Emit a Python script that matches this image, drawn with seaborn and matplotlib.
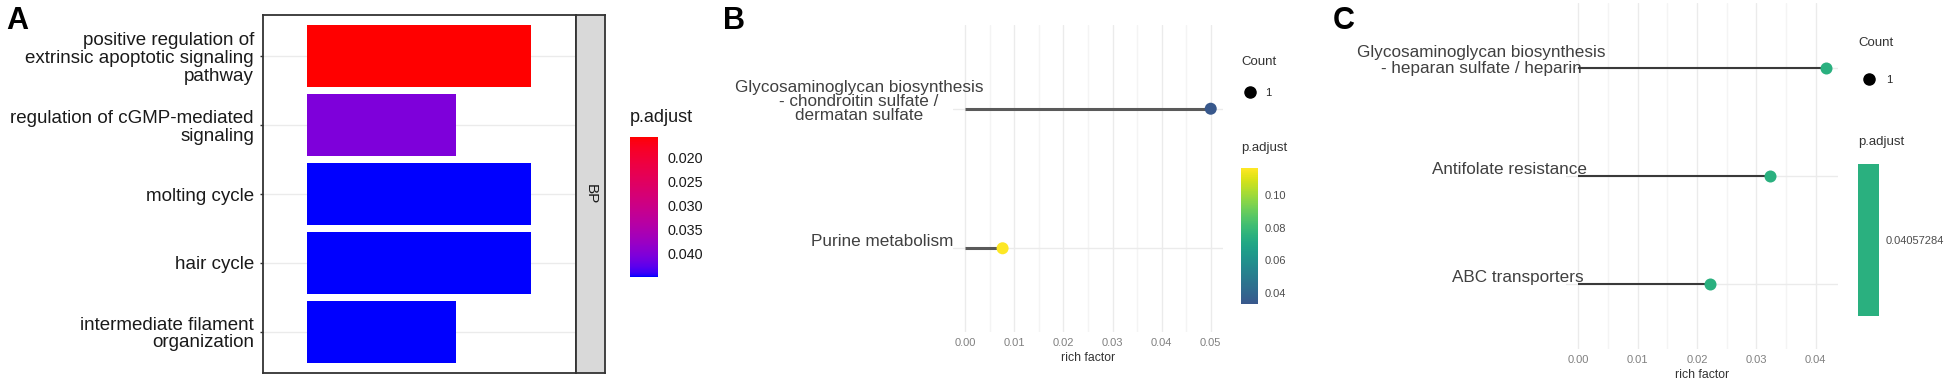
import numpy as np
import pandas as pd
import matplotlib
matplotlib.use("Agg")
import matplotlib.pyplot as plt
import seaborn as sns
from matplotlib.colors import ListedColormap, Normalize
from matplotlib.cm import ScalarMappable
from matplotlib.lines import Line2D
from matplotlib.ticker import FormatStrFormatter, MultipleLocator

# ---------------- data ----------------
a_terms = ["positive regulation of\nextrinsic apoptotic signaling\npathway",
           "regulation of cGMP-mediated\nsignaling",
           "molting cycle",
           "hair cycle",
           "intermediate filament\norganization"]
a_count = [3, 2, 3, 3, 2]
a_padj = [0.01558, 0.0405, 0.04505, 0.04505, 0.04505]
a_cbar_ticks = [0.020, 0.025, 0.030, 0.035, 0.040]
a_facet = "BP"

b_terms = ["Glycosaminoglycan biosynthesis\n- chondroitin sulfate /\ndermatan sulfate",
           "Purine metabolism"]
b_rich = [0.05, 0.0076]
b_padj = [0.0333, 0.1164]
b_count = [1, 1]
b_xticks = [0.00, 0.01, 0.02, 0.03, 0.04, 0.05]
b_cbar_ticks = [0.04, 0.06, 0.08, 0.10]

c_terms = ["Glycosaminoglycan biosynthesis\n- heparan sulfate / heparin",
           "Antifolate resistance",
           "ABC transporters"]
c_rich = [0.0417, 0.0323, 0.0222]
c_padj = [0.04057284, 0.04057284, 0.04057284]
c_count = [1, 1, 1]
c_xticks = [0.00, 0.01, 0.02, 0.03, 0.04]

# ---------------- style ----------------
sns.set_theme(style="white")
plt.rcParams["font.family"] = ["Liberation Sans", "DejaVu Sans"]

W, H = 1950, 390
fig = plt.figure(figsize=(W / 100, H / 100), dpi=100)


def rect(x0, y0, x1, y1):
    return [x0 / W, 1 - y1 / H, (x1 - x0) / W, (y1 - y0) / H]


# CIELAB gradient red -> blue (like ggplot's continuous scale)
def _to_lab(rgb):
    c = np.asarray(rgb, float)
    lin = np.where(c <= 0.04045, c / 12.92, ((c + 0.055) / 1.055) ** 2.4)
    M = np.array([[0.4124, 0.3576, 0.1805], [0.2126, 0.7152, 0.0722], [0.0193, 0.1192, 0.9505]])
    xyz = M @ lin / np.array([0.95047, 1.0, 1.08883])
    f = np.where(xyz > 0.008856, np.cbrt(xyz), 7.787 * xyz + 16 / 116)
    return np.array([116 * f[1] - 16, 500 * (f[0] - f[1]), 200 * (f[1] - f[2])])


def _from_lab(lab):
    L, a, b = lab
    fy = (L + 16) / 116
    f = np.array([fy + a / 500, fy, fy - b / 200])
    xyz = np.where(f ** 3 > 0.008856, f ** 3, (f - 16 / 116) / 7.787) * np.array([0.95047, 1.0, 1.08883])
    Mi = np.array([[3.2406, -1.5372, -0.4986], [-0.9689, 1.8758, 0.0415], [0.0557, -0.2040, 1.0570]])
    lin = np.clip(Mi @ xyz, 0, 1)
    return np.clip(np.where(lin <= 0.0031308, 12.92 * lin, 1.055 * lin ** (1 / 2.4) - 0.055), 0, 1)


lab_r, lab_b = _to_lab([1, 0, 0]), _to_lab([0, 0, 1])
cmapA = ListedColormap([_from_lab(lab_r + t * (lab_b - lab_r)) for t in np.linspace(0, 1, 256)])
cmapV = ListedColormap(plt.get_cmap("viridis")(np.linspace(0.27, 1.0, 256)))

# ---------------- panel A ----------------
axA = fig.add_axes(rect(263, 15, 576, 373))
dfA = pd.DataFrame({"term": a_terms, "count": a_count, "padj": a_padj})
normA = Normalize(min(a_padj), max(a_padj))
palA = {t: cmapA(normA(p)) for t, p in zip(a_terms, a_padj)}
sns.barplot(data=dfA, x="count", y="term", hue="term", palette=palA, orient="h",
            width=0.9, saturation=1, legend=False, ax=axA, linewidth=0)
axA.set_xlim(-0.59, 3.6)
axA.set_ylim(len(a_terms) - 1 + 0.6, -0.6)
axA.set_xlabel("")
axA.set_ylabel("")
axA.set_xticks([])
axA.grid(axis="y", color="#EBEBEB", lw=1)
axA.set_axisbelow(True)
for s in axA.spines.values():
    s.set_color("#333333")
    s.set_linewidth(1.3)
axA.tick_params(axis="y", left=True, length=2.5, width=1, color="#333333", pad=4,
                labelsize=13.5, labelcolor="#1A1A1A")
for lbl in axA.get_yticklabels():
    lbl.set_linespacing(1.05)

axS = fig.add_axes(rect(576, 15, 605, 373))
axS.set_facecolor("#D9D9D9")
axS.set_xticks([])
axS.set_yticks([])
for s in axS.spines.values():
    s.set_color("#333333")
    s.set_linewidth(1.3)
axS.text(0.5, 0.5, a_facet, rotation=-90, ha="center", va="center", fontsize=11,
         color="#1A1A1A", transform=axS.transAxes)

caxA = fig.add_axes(rect(630, 137, 658, 277))
cbA = fig.colorbar(ScalarMappable(norm=normA, cmap=cmapA), cax=caxA)
cbA.outline.set_visible(False)
caxA.invert_yaxis()
cbA.set_ticks(a_cbar_ticks)
caxA.yaxis.set_major_formatter(FormatStrFormatter("%.3f"))
caxA.yaxis.set_ticks_position("both")
caxA.tick_params(axis="y", direction="in", length=5, width=1, color="white",
                 left=True, right=True, labelleft=False, labelright=True,
                 labelsize=10.4, labelcolor="#1A1A1A", pad=7)
fig.text(630 / W, 1 - 117 / H, "p.adjust", ha="left", va="center", fontsize=13, color="#1A1A1A")


# ---------------- lollipop panels ----------------
def lollipop(ax, terms, rich, padj, xticks, hue_cmap, seg_color, seg_lw, dxs, lsp, single_color=None):
    df = pd.DataFrame({"term": terms, "rich": rich, "padj": padj})
    df["pos"] = np.arange(len(df))
    ax.hlines(df["pos"], 0, df["rich"], color=seg_color, lw=seg_lw, zorder=2)
    if single_color is None:
        sns.scatterplot(data=df, x="rich", y="pos", hue="padj", palette=hue_cmap,
                        hue_norm=(min(padj), max(padj)), s=75, linewidth=0,
                        legend=False, ax=ax, zorder=3)
    else:
        sns.scatterplot(data=df, x="rich", y="pos", color=single_color, s=75,
                        linewidth=0, legend=False, ax=ax, zorder=3)
    hi = max(rich)
    pad = 0.05 * hi
    ax.set_xlim(-pad, hi + pad)
    ax.set_ylim(len(df) - 1 + 0.6, -0.6)
    ax.set_xticks(xticks)
    ax.xaxis.set_minor_locator(MultipleLocator(0.005))
    ax.xaxis.set_major_formatter(FormatStrFormatter("%.2f"))
    ax.set_yticks(df["pos"])
    ax.set_yticklabels([])
    ax.grid(which="major", color="#EBEBEB", lw=1)
    ax.grid(which="minor", axis="x", color="#F4F4F4", lw=1)
    ax.set_axisbelow(True)
    for s in ax.spines.values():
        s.set_visible(False)
    ax.tick_params(which="both", length=0)
    ax.tick_params(axis="x", labelsize=8, labelcolor="#808080", pad=4)
    ax.set_ylabel("")
    ax.set_xlabel("rich factor", fontsize=8.8, color="#333333", labelpad=3)
    for p, t, dx in zip(df["pos"], df["term"], dxs):
        ax.annotate(t, xy=(0, p), xycoords="data", xytext=(dx, 7), textcoords="offset pixels",
                    ha="right", va="center", multialignment="center", fontsize=12.3,
                    color="#404040", linespacing=lsp, zorder=1)


def count_legend(x_left, y_mid, counts, textpad):
    h = Line2D([], [], marker="o", ls="", color="black", markersize=8)
    fig.legend(handles=[h], labels=[str(v) for v in sorted(set(counts))], loc="center left",
               bbox_to_anchor=(x_left / W, 1 - y_mid / H), frameon=False, borderpad=0,
               borderaxespad=0, handlelength=1, handletextpad=textpad,
               prop={"size": 8})


def white_ticks(cax):
    cax.yaxis.set_ticks_position("both")
    cax.tick_params(axis="y", direction="in", length=4, width=1, color="white",
                    left=True, right=True, labelleft=False, labelright=True,
                    labelsize=8, labelcolor="#4D4D4D", pad=5)


# panel B
axB = fig.add_axes(rect(953, 25, 1223, 332))
lollipop(axB, b_terms, b_rich, b_padj, b_xticks, cmapV, "#5A5A5A", 2.2, [18, -12], 0.92)
caxB = fig.add_axes(rect(1241, 168, 1258, 304))
normB = Normalize(min(b_padj), max(b_padj))
cbB = fig.colorbar(ScalarMappable(norm=normB, cmap=cmapV), cax=caxB)
cbB.outline.set_visible(False)
cbB.set_ticks(b_cbar_ticks)
caxB.yaxis.set_major_formatter(FormatStrFormatter("%.2f"))
white_ticks(caxB)
fig.text(1241 / W, 1 - 62 / H, "Count", ha="left", va="center", fontsize=9.5, color="#333333")
fig.text(1241 / W, 1 - 148 / H, "p.adjust", ha="left", va="center", fontsize=9.5, color="#333333")
count_legend(1244, 93, b_count, 0.9)

# panel C
colC = cmapV(0.5)
axC = fig.add_axes(rect(1566, 3, 1838, 349))
lollipop(axC, c_terms, c_rich, c_padj, c_xticks, cmapV, "#3A3A3A", 1.5, [27, 9, 5], 1.1, single_color=colC)
caxC = fig.add_axes(rect(1858, 164, 1879, 316))
vC = c_padj[0]
cbC = fig.colorbar(ScalarMappable(norm=Normalize(vC * 0.9, vC * 1.1), cmap=ListedColormap([colC])), cax=caxC)
cbC.outline.set_visible(False)
cbC.set_ticks([vC])
caxC.yaxis.set_major_formatter(FormatStrFormatter("%.8f"))
white_ticks(caxC)
fig.text(1858 / W, 1 - 43 / H, "Count", ha="left", va="center", fontsize=9.5, color="#333333")
fig.text(1858 / W, 1 - 142 / H, "p.adjust", ha="left", va="center", fontsize=9.5, color="#333333")
count_legend(1863, 80, c_count, 1.1)

# panel letters
for x, letter in [(6, "A"), (723, "B"), (1333, "C")]:
    fig.text(x / W, 1 - 6 / H, letter, ha="left", va="top", fontsize=22, fontweight="bold", color="black")

fig.savefig("out.png", dpi=100, facecolor="white")
